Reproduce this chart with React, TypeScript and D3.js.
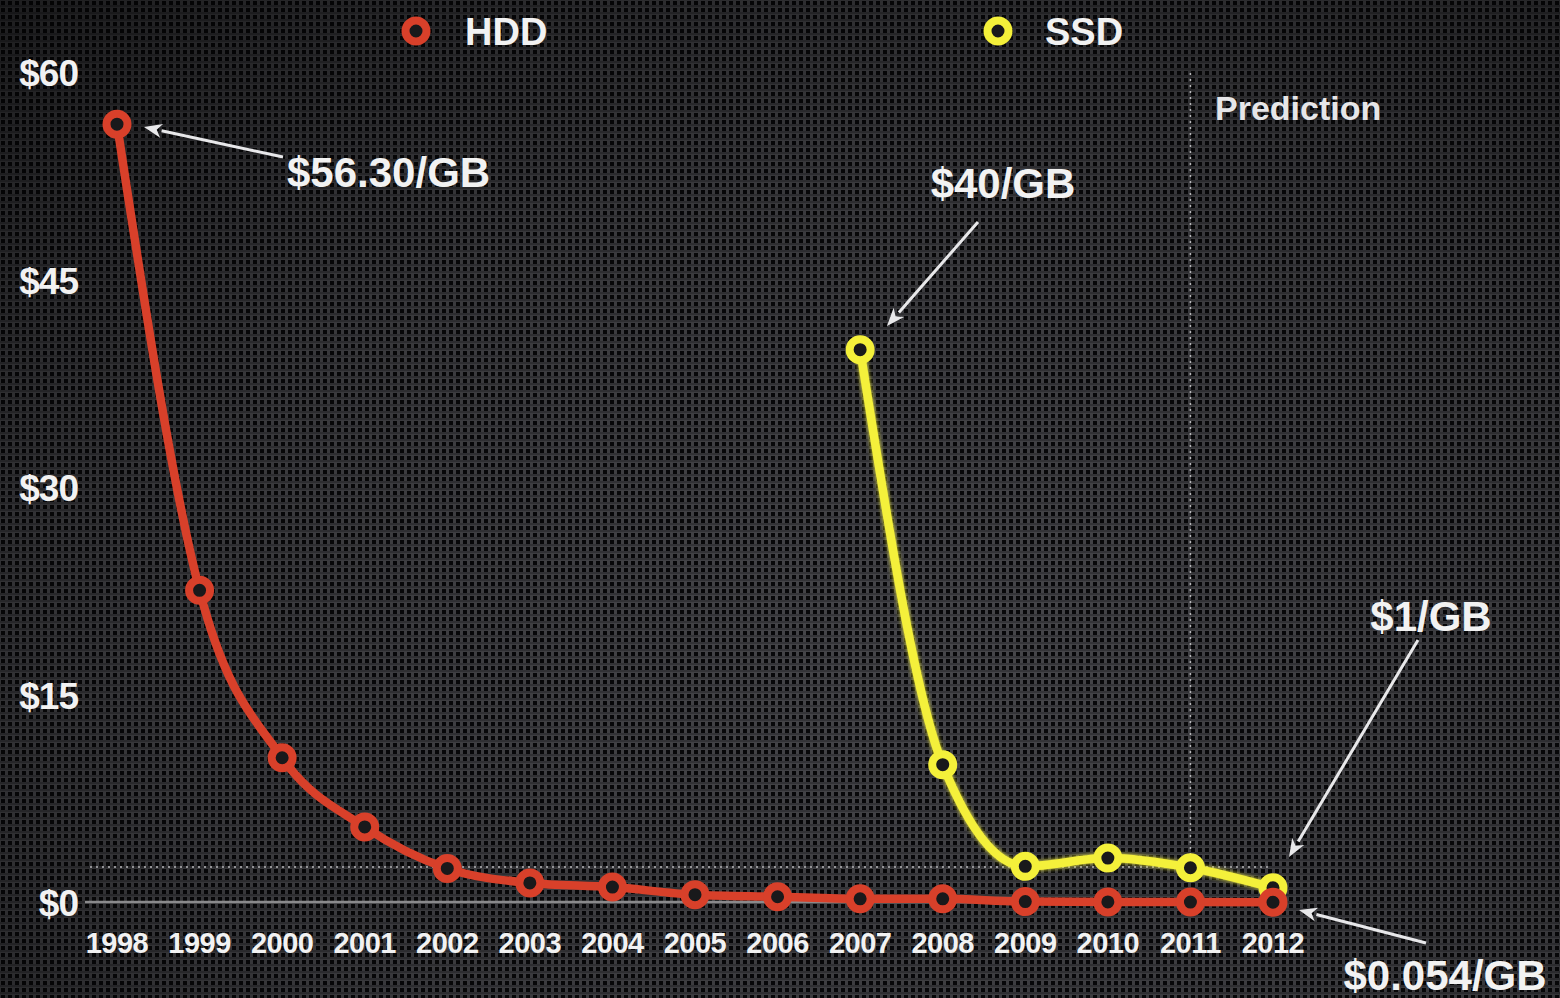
import React from "react";
import * as d3 from "d3";

const years = [1998, 1999, 2000, 2001, 2002, 2003, 2004, 2005, 2006, 2007, 2008, 2009, 2010, 2011, 2012];
const hddPrice = [56.3, 22.6, 10.5, 5.5, 2.5, 1.45, 1.15, 0.6, 0.45, 0.3, 0.3, 0.1, 0.08, 0.07, 0.054];
const ssdYears = [2007, 2008, 2009, 2010, 2011, 2012];
const ssdPrice = [40, 10, 2.65, 3.25, 2.55, 1.1];
const yTicks = [0, 15, 30, 45, 60];
const refValue = 2.6;
const predictionYear = 2011;

const W = 1560;
const H = 998;
const FONT = "'Liberation Sans', Arial, Helvetica, sans-serif";
const RED = "#d8402a";
const YEL = "#f4f03a";
const TXT = "#f2f2f2";

const x = d3.scaleLinear().domain([1998, 2012]).range([117, 1273]);
const y = d3.scaleLinear().domain([0, 60]).range([903, 73]);

type Pt = [number, number];
const hddPts: Pt[] = years.map((yr, i) => [yr, hddPrice[i]]);
const ssdPts: Pt[] = ssdYears.map((yr, i) => [yr, ssdPrice[i]]);

const line = d3
  .line<Pt>()
  .x((d) => x(d[0]))
  .y((d) => y(d[1]))
  .curve(d3.curveMonotoneX);

function Arrow({ x1, y1, x2, y2 }: { x1: number; y1: number; x2: number; y2: number }) {
  const ang = Math.atan2(y2 - y1, x2 - x1);
  const L = 18;
  const Wd = 7;
  const bx = x2 - L * Math.cos(ang);
  const by = y2 - L * Math.sin(ang);
  const px = -Math.sin(ang) * Wd;
  const py = Math.cos(ang) * Wd;
  return (
    <g>
      <line x1={x1} y1={y1} x2={bx} y2={by} stroke="#e8e8ea" strokeWidth={3} />
      <path d={`M${x2},${y2} L${bx + px},${by + py} L${bx + 5 * Math.cos(ang)},${by + 5 * Math.sin(ang)} L${bx - px},${by - py} Z`} fill="#e8e8ea" />
    </g>
  );
}

function Marker({ cx, cy, color }: { cx: number; cy: number; color: string }) {
  return <circle cx={cx} cy={cy} r={10.5} fill="#19191b" stroke={color} strokeWidth={8} />;
}

export default function App() {
  const xPred = x(predictionYear);
  const yRef = y(refValue);
  return (
    <svg
      width={W}
      height={H}
      viewBox={`0 0 ${W} ${H}`}
      style={{ position: "absolute", left: 0, top: 0, display: "block" }}
    >
      <defs>
        <pattern id="mesh" x={0} y={0} width={7} height={7} patternUnits="userSpaceOnUse">
          <rect width={7} height={7} fill="#46464a" />
          <rect x={0} y={5} width={7} height={2} fill="#36363a" />
          <rect x={1} y={1} width={4} height={4} fill="#08080a" />
        </pattern>
        <radialGradient id="vig" cx="0.6" cy="0.65" r="0.9">
          <stop offset="0" stopColor="#000" stopOpacity={0.0} />
          <stop offset="0.55" stopColor="#000" stopOpacity={0.2} />
          <stop offset="1" stopColor="#000" stopOpacity={0.6} />
        </radialGradient>
        <filter id="glow" x="-20%" y="-20%" width="140%" height="140%">
          <feGaussianBlur stdDeviation={2} in="SourceGraphic" result="b" />
          <feMerge>
            <feMergeNode in="b" />
            <feMergeNode in="SourceGraphic" />
          </feMerge>
        </filter>
      </defs>
      <rect width={W} height={H} fill="url(#mesh)" />
      <rect width={W} height={H} fill="url(#vig)" />

      {/* legend */}
      <Marker cx={416} cy={31} color={RED} />
      <text x={465} y={31 + 13.6} fill={TXT} fontFamily={FONT} fontWeight="bold" fontSize={38}>HDD</text>
      <Marker cx={998} cy={31} color={YEL} />
      <text x={1045} y={31 + 13.6} fill={TXT} fontFamily={FONT} fontWeight="bold" fontSize={38}>SSD</text>

      {/* y ticks */}
      {yTicks.map((t) => (
        <text key={t} x={78} y={y(t) + 13.3} textAnchor="end" fill={TXT} fontFamily={FONT} fontWeight="bold" fontSize={37} letterSpacing={-1}>
          {`$${t}`}
        </text>
      ))}

      {/* baseline and reference lines */}
      <line x1={85} x2={1285} y1={y(0) - 1} y2={y(0) - 1} stroke="#8a8a8c" strokeWidth={2.5} />
      <line x1={90} x2={1272} y1={yRef} y2={yRef} stroke="#b8b8bb" strokeWidth={1.5} strokeDasharray="2 4" />
      <line x1={xPred} x2={xPred} y1={y(60)} y2={yRef} stroke="#b8b8bb" strokeWidth={1.5} strokeDasharray="2 4" />
      <text x={1215} y={108 + 12.2} fill="#e6e6e8" fontFamily={FONT} fontWeight="bold" fontSize={34}>Prediction</text>

      {/* x ticks */}
      {years.map((yr) => (
        <text key={yr} x={x(yr)} y={942 + 10.5} textAnchor="middle" fill={TXT} fontFamily={FONT} fontWeight="bold" fontSize={29} letterSpacing={-0.5}>
          {yr}
        </text>
      ))}

      {/* series */}
      <path d={line(ssdPts) || ""} fill="none" stroke={YEL} strokeWidth={8.5} strokeLinejoin="round" filter="url(#glow)" />
      {ssdPts.map((d) => (
        <Marker key={`s${d[0]}`} cx={x(d[0])} cy={y(d[1])} color={YEL} />
      ))}
      <path d={line(hddPts) || ""} fill="none" stroke={RED} strokeWidth={8.5} strokeLinejoin="round" />
      {hddPts.map((d) => (
        <Marker key={`h${d[0]}`} cx={x(d[0])} cy={y(d[1])} color={RED} />
      ))}

      {/* annotations */}
      <Arrow x1={283} y1={157} x2={144} y2={127} />
      <text x={287} y={172 + 15} fill={TXT} fontFamily={FONT} fontWeight="bold" fontSize={42}>$56.30/GB</text>

      <Arrow x1={978} y1={222} x2={887} y2={326} />
      <text x={1003} y={183 + 15} textAnchor="middle" fill={TXT} fontFamily={FONT} fontWeight="bold" fontSize={42}>$40/GB</text>

      <Arrow x1={1418} y1={640} x2={1289} y2={857} />
      <text x={1431} y={616 + 15} textAnchor="middle" fill={TXT} fontFamily={FONT} fontWeight="bold" fontSize={42}>$1/GB</text>

      <Arrow x1={1426} y1={943} x2={1299} y2={910} />
      <text x={1445} y={975 + 15} textAnchor="middle" fill={TXT} fontFamily={FONT} fontWeight="bold" fontSize={42}>$0.054/GB</text>
    </svg>
  );
}
